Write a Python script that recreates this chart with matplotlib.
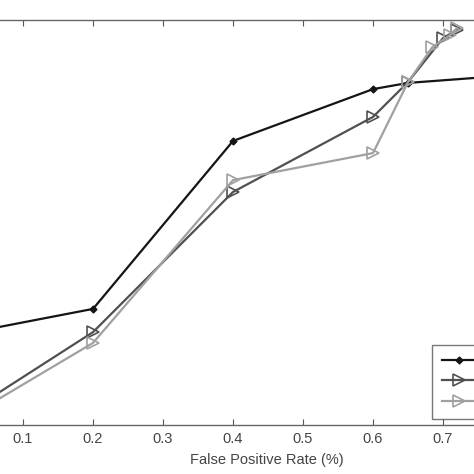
import matplotlib.pyplot as plt

plt.rcParams['font.family'] = ['Liberation Sans', 'DejaVu Sans']

# false positive rate (%) and detection rate (%) per method
fpr_a = [0.0, 0.2, 0.4, 0.6, 0.65, 0.8]
det_a = [88.30, 89.30, 95.52, 97.44, 97.67, 97.96]

fpr_b = [0.0, 0.2, 0.4, 0.6, 0.65, 0.7, 0.72]
det_b = [85.11, 88.44, 93.63, 96.41, 97.70, 99.33, 99.63]

fpr_c = [0.0, 0.2, 0.4, 0.6, 0.65, 0.685, 0.71, 0.72]
det_c = [84.96, 88.04, 94.07, 95.07, 97.70, 99.00, 99.44, 99.70]

labels = ['Method A', 'Method B', 'Method C']
xticks = [0.1, 0.2, 0.3, 0.4, 0.5, 0.6, 0.7]

fig = plt.figure(figsize=(4.74, 4.74), dpi=100)
ax = fig.add_axes([0.0, 0.1034, 1.0, 0.8544])

ax.plot(fpr_a, det_a, color='#151515', lw=1.6, marker='D', ms=3.5,
        label=labels[0])
ax.plot(fpr_b, det_b, color='#505050', lw=1.6, marker='>', ms=8,
        mfc='none', mew=1.2, label=labels[1])
ax.plot(fpr_c, det_c, color='#a0a0a0', lw=1.6, marker='>', ms=8,
        mfc='none', mew=1.2, label=labels[2])

ax.set_xlim(0.0671, 0.7443)
ax.set_ylim(85, 100)
ax.set_xticks(xticks)
ax.set_xticklabels([f'{t:.1f}' for t in xticks], fontsize=10.5, color='#444444')
ax.set_yticks([])
ax.tick_params(axis='x', direction='in', top=True, length=4, color='#555555',
               pad=5)
for side in ['left', 'right']:
    ax.spines[side].set_visible(False)
for side in ['top', 'bottom']:
    ax.spines[side].set_color('#666666')
    ax.spines[side].set_linewidth(1.0)

ax.set_xlabel('False Positive Rate (%)', fontsize=10.5, color='#444444')
ax.xaxis.set_label_coords(0.563, -0.07)

# legend sits mostly off the right edge, labels fall outside the canvas
leg = ax.legend(loc='lower left', bbox_to_anchor=(0.911, 0.016),
                fontsize=9, frameon=True, fancybox=False, handlelength=2.6,
                borderaxespad=0, labelspacing=0.65, borderpad=0.85)
leg.get_frame().set_edgecolor('#555555')
leg.get_frame().set_linewidth(1.0)

plt.savefig('out.png', dpi=100)
